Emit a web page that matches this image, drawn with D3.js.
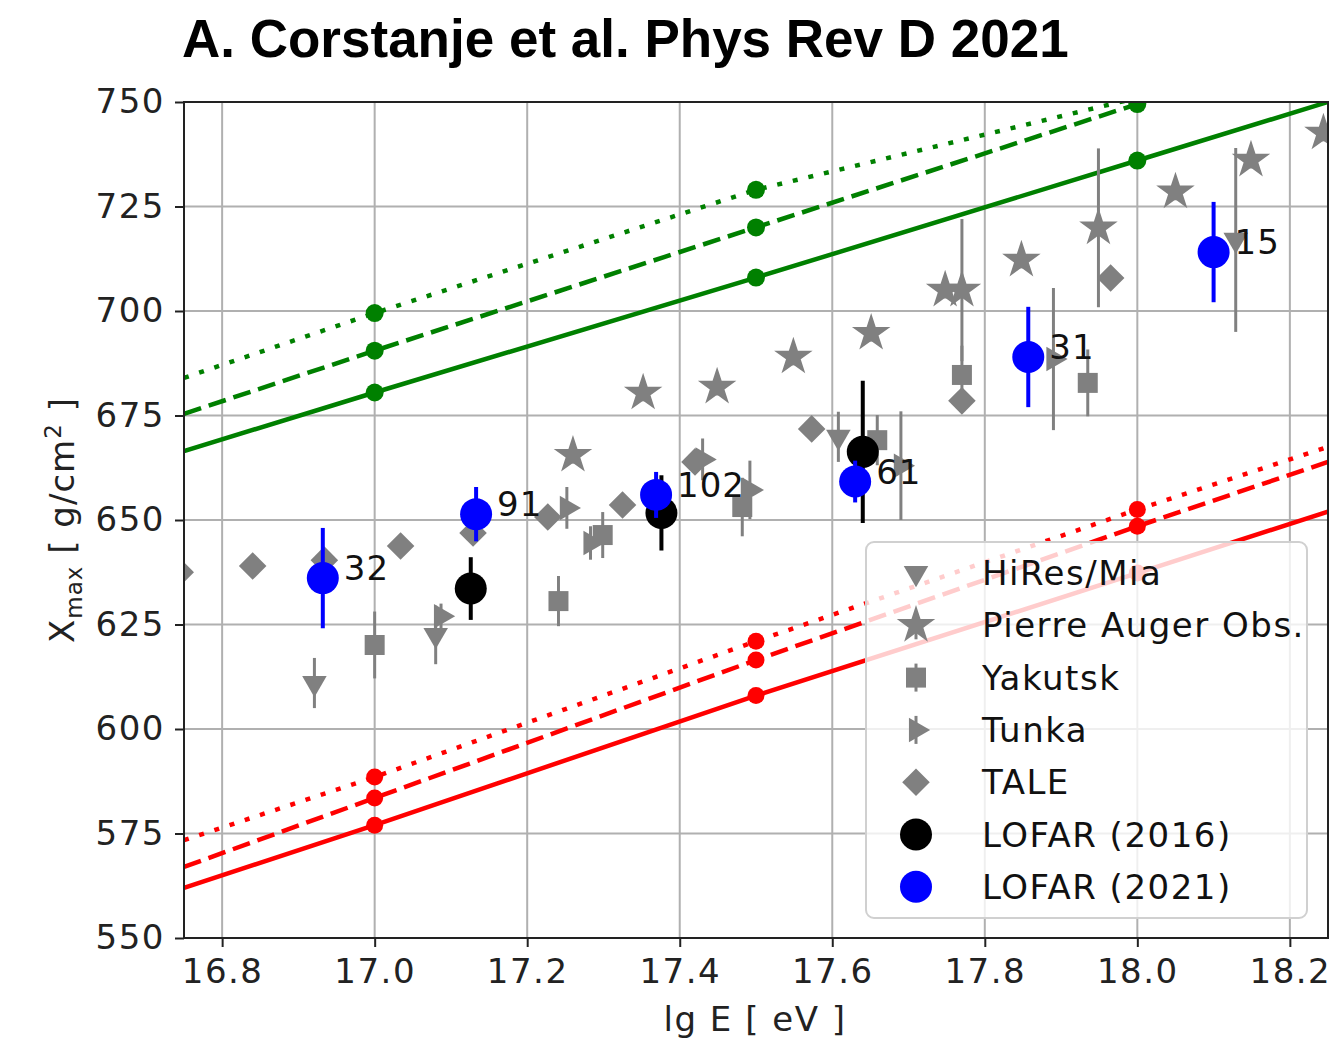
<!DOCTYPE html>
<html>
<head>
<meta charset="utf-8">
<script src="https://cdn.jsdelivr.net/npm/d3@7"></script>
<style>
  body { margin: 0; background: #fff; }
  svg text { font-family: "DejaVu Sans", sans-serif; }
</style>
</head>
<body>
<svg width="1338" height="1040"></svg>
<script>
// model lines (lg E, Xmax)
var lineE = [16.75, 17.0, 17.5, 18.0, 18.25];
var markE = [17.0, 17.5, 18.0];
var greenSolid  = [666.5, 680.5, 708, 736, 750];
var greenDashed = [675.4, 690.5, 720, 749.5, 764];
var greenDotted = [684, 699.5, 729, 751, 765];
var redSolid  = [562, 577, 608, 637.3, 652];
var redDashed = [567, 583.5, 616.5, 648.5, 663.9];
var redDotted = [573.4, 588.5, 621, 652.5, 667.5];

// other experiments
var hiresE = [16.921, 17.08, 17.608, 18.129];
var hiresX = [611, 622.5, 669.9, 717];
var hiresErr = [6, 7, 6, 22];

var augerE = [17.26, 17.352, 17.449, 17.549, 17.651, 17.748, 17.77, 17.848, 17.949, 18.05, 18.149, 18.244];
var augerX = [665.5, 680.4, 681.8, 689, 694.7, 705, 705, 712.2, 719.9, 728.5, 736.1, 742.6];
var augerErr = [2, 2, 2, 2, 2, 2, 17, 2, 19, 2, 2, 2];

var yakutskE = [17.0, 17.241, 17.299, 17.482, 17.659, 17.77, 17.935];
var yakutskX = [620.1, 630.6, 646.4, 653.1, 669.1, 684.7, 682.8];
var yakutskErr = [8, 6, 5.5, 7, 6, 7, 8];

var tunkaE = [17.087, 17.252, 17.283, 17.43, 17.492, 17.69, 17.89];
var tunkaX = [627, 652.9, 644.5, 664.5, 657.2, 663, 688.5];
var tunkaErr = [3, 5, 4, 5, 7, 13, 17];

var taleE = [16.745, 16.84, 16.934, 17.034, 17.129, 17.227, 17.325, 17.42, 17.573, 17.77, 17.965];
var taleX = [637.5, 639, 640.4, 643.8, 646.9, 650.7, 653.6, 663.9, 671.8, 678.5, 707.9];
var taleErr = [0, 0, 0, 0, 0, 0, 0, 0, 0, 0, 6.5];

var lofar16E = [17.126, 17.376, 17.64];
var lofar16X = [633.6, 651.7, 666.3];
var lofar16Err = [7.5, 9, 17];

var lofar21E = [16.932, 17.133, 17.369, 17.63, 17.857, 18.1];
var lofar21X = [636.1, 651.4, 656, 659.2, 689, 714.1];
var lofar21Err = [12, 6.5, 5.5, 5, 12, 12];
var lofar21N = [32, 91, 102, 61, 31, 15];

var xTicks = [16.8, 17.0, 17.2, 17.4, 17.6, 17.8, 18.0, 18.2];
var yTicks = [550, 575, 600, 625, 650, 675, 700, 725, 750];

var svg = d3.select("svg"),
    margin = {top: 102, right: 10, bottom: 102, left: 184},
    width = 1328 - margin.left,
    height = 938 - margin.top,
    g = svg.append("g").attr("transform", "translate(" + margin.left + "," + margin.top + ")");

var x = d3.scaleLinear().domain([16.75, 18.25]).range([0, width]);
var y = d3.scaleLinear().domain([550, 750]).range([height, 0]);

svg.append("defs").append("clipPath").attr("id", "clip")
  .append("rect").attr("width", width).attr("height", height);

// title
svg.append("text")
  .attr("x", 182).attr("y", 57)
  .style("font-family", "'Liberation Sans', Arial, sans-serif")
  .style("font-weight", "bold")
  .style("font-size", "53px")
  .text("A. Corstanje et al. Phys Rev D 2021");

// grid
g.append("g").selectAll("line").data(xTicks).enter().append("line")
  .attr("x1", d => x(d)).attr("x2", d => x(d))
  .attr("y1", 0).attr("y2", height)
  .attr("stroke", "#b0b0b0").attr("stroke-width", 2);
g.append("g").selectAll("line").data(yTicks).enter().append("line")
  .attr("y1", d => y(d)).attr("y2", d => y(d))
  .attr("x1", 0).attr("x2", width)
  .attr("stroke", "#b0b0b0").attr("stroke-width", 2);

// axes
var xAxis = d3.axisBottom(x).tickValues(xTicks).tickFormat(d3.format(".1f")).tickSize(9).tickPadding(12);
var yAxis = d3.axisLeft(y).tickValues(yTicks).tickSize(9).tickPadding(10);

var gx = g.append("g").attr("transform", "translate(0," + height + ")").call(xAxis);
var gy = g.append("g").call(yAxis);
[gx, gy].forEach(function (a) {
  a.select(".domain").remove();
  a.selectAll("line").attr("stroke", "#222").attr("stroke-width", 2);
  a.selectAll("text").style("font-size", "34px").style("letter-spacing", "1.5px").attr("fill", "#222");
});

svg.append("text")
  .attr("x", 755).attr("y", 1031)
  .attr("text-anchor", "middle")
  .style("font-size", "34px").style("letter-spacing", "1.5px").attr("fill", "#222")
  .text("lg E [ eV ]");

var ylab = svg.append("text")
  .attr("transform", "translate(74,520) rotate(-90)")
  .attr("text-anchor", "middle")
  .style("font-size", "34px").style("letter-spacing", "1px").attr("fill", "#222");
ylab.append("tspan").text("X");
ylab.append("tspan").attr("dy", 8).style("font-size", "23px").text("max");
ylab.append("tspan").attr("dy", -8).text(" [ g/cm");
ylab.append("tspan").attr("dy", -13).style("font-size", "23px").text("2");
ylab.append("tspan").attr("dy", 13).text(" ]");

var plot = g.append("g").attr("clip-path", "url(#clip)");

// model lines
var line = d3.line().x((d, i) => x(lineE[i])).y(d => y(d));
var models = [
  {v: greenSolid, c: "#008000", dash: null},
  {v: greenDashed, c: "#008000", dash: "18,8"},
  {v: greenDotted, c: "#008000", dash: "5,11"},
  {v: redSolid, c: "#ff0000", dash: null},
  {v: redDashed, c: "#ff0000", dash: "18,8"},
  {v: redDotted, c: "#ff0000", dash: "5,11"}
];
models.forEach(function (m) {
  plot.append("path")
    .attr("d", line(m.v))
    .attr("fill", "none")
    .attr("stroke", m.c)
    .attr("stroke-width", 4.5)
    .attr("stroke-dasharray", m.dash);
  plot.selectAll(null).data(markE).enter().append("circle")
    .attr("cx", d => x(d))
    .attr("cy", d => y(m.v[lineE.indexOf(d)]))
    .attr("r", m.c === "#008000" ? 9 : 8.5)
    .attr("fill", m.c);
});

// data sets
function errs(E, X, Err, color, w) {
  plot.append("g").selectAll("line").data(E).enter().append("line")
    .filter((d, i) => Err[i] > 0)
    .attr("x1", d => x(d)).attr("x2", d => x(d))
    .attr("y1", (d, i) => y(X[i] - Err[i]))
    .attr("y2", (d, i) => y(X[i] + Err[i]))
    .attr("stroke", color).attr("stroke-width", w);
}

function symbols(E, X, type, size, rot, color) {
  plot.append("g").selectAll("path").data(E).enter().append("path")
    .attr("d", d3.symbol().type(type).size(size))
    .attr("transform", (d, i) => "translate(" + x(d) + "," + y(X[i]) + ") rotate(" + rot + ")")
    .attr("fill", color);
}

var gray = "#808080";
var sets = [
  {E: hiresE, X: hiresX, Err: hiresErr, type: d3.symbolTriangle, size: 260, rot: 180},
  {E: augerE, X: augerX, Err: augerErr, type: d3.symbolStar, size: 460, rot: 0},
  {E: yakutskE, X: yakutskX, Err: yakutskErr, type: d3.symbolSquare, size: 400, rot: 0},
  {E: tunkaE, X: tunkaX, Err: tunkaErr, type: d3.symbolTriangle, size: 260, rot: 90},
  {E: taleE, X: taleX, Err: taleErr, type: d3.symbolSquare, size: 380, rot: 45}
];
sets.forEach(function (s) {
  errs(s.E, s.X, s.Err, gray, 3);
  symbols(s.E, s.X, s.type, s.size, s.rot, gray);
});

errs(lofar16E, lofar16X, lofar16Err, "#000", 4);
plot.append("g").selectAll("circle").data(lofar16E).enter().append("circle")
  .attr("cx", d => x(d)).attr("cy", (d, i) => y(lofar16X[i]))
  .attr("r", 16).attr("fill", "#000");

errs(lofar21E, lofar21X, lofar21Err, "#0000ff", 4);
plot.append("g").selectAll("circle").data(lofar21E).enter().append("circle")
  .attr("cx", d => x(d)).attr("cy", (d, i) => y(lofar21X[i]))
  .attr("r", 16).attr("fill", "#0000ff");

g.append("g").selectAll("text").data(lofar21E).enter().append("text")
  .attr("x", d => x(d) + 21)
  .attr("y", (d, i) => y(lofar21X[i]) - 10)
  .attr("dominant-baseline", "central")
  .style("font-size", "34px").style("letter-spacing", "1px").attr("fill", "#111")
  .text((d, i) => lofar21N[i]);

// legend
var legendNames = ["HiRes/Mia", "Pierre Auger Obs.", "Yakutsk", "Tunka", "TALE", "LOFAR (2016)", "LOFAR (2021)"];
var lg = svg.append("g");
lg.append("rect")
  .attr("x", 866).attr("y", 542).attr("width", 441).attr("height", 376)
  .attr("rx", 8)
  .attr("fill", "#fff").attr("fill-opacity", 0.8)
  .attr("stroke", "#d0d0d0").attr("stroke-width", 2);
legendNames.forEach(function (name, i) {
  var cy = 573 + i * 52.3;
  var row = lg.append("g").attr("transform", "translate(916," + cy + ")");
  if (i < 5) {
    var s = sets[i];
    if (i >= 1 && i <= 3) {
      row.append("line").attr("y1", -14).attr("y2", 14)
        .attr("stroke", gray).attr("stroke-width", 3);
    }
    row.append("path")
      .attr("d", d3.symbol().type(s.type).size(s.size))
      .attr("transform", "rotate(" + s.rot + ")")
      .attr("fill", gray);
  } else {
    row.append("circle").attr("r", 16).attr("fill", i === 5 ? "#000" : "#0000ff");
  }
  lg.append("text")
    .attr("x", 982).attr("y", cy)
    .attr("dominant-baseline", "central")
    .style("font-size", "34px").style("letter-spacing", "1.5px").attr("fill", "#111")
    .text(name);
});

// frame
g.append("rect")
  .attr("width", width).attr("height", height)
  .attr("fill", "none").attr("stroke", "#222").attr("stroke-width", 2);
</script>
</body>
</html>
